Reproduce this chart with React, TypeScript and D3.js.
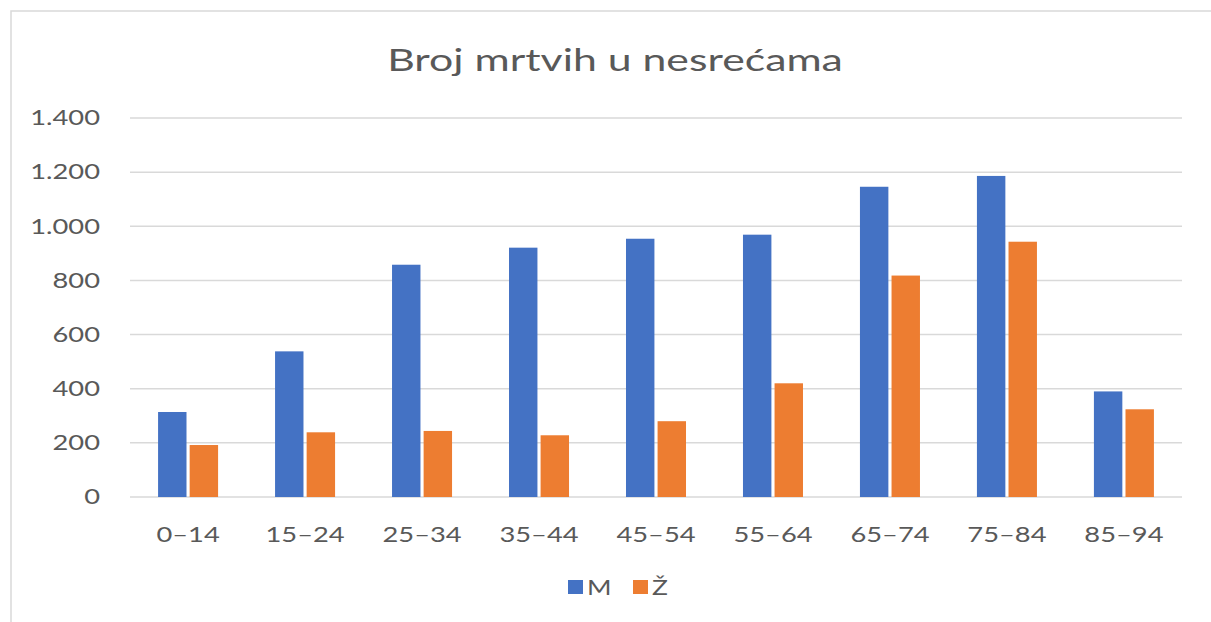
import React from "react";
import * as d3 from "d3";

const categories = ["0–14", "15–24", "25–34", "35–44", "45–54", "55–64", "65–74", "75–84", "85–94"];
const seriesNames = ["M", "Ž"];
const maleValues = [314, 538, 858, 921, 954, 969, 1146, 1186, 390];
const femaleValues = [192, 239, 244, 228, 280, 420, 818, 943, 324];
const yTicks = [0, 200, 400, 600, 800, 1000, 1200, 1400];
const colors = ["#4472C4", "#ED7D31"];

const width = 1211;
const height = 622;
const margin = { top: 118, right: 29, bottom: 125, left: 130 };
const font = "Lato, 'Open Sans', sans-serif";
const textColor = "#595959";

const fmt = (v: number) => d3.format(",")(v).replace(/,/g, ".");

// the source image is stretched sideways, so text gets a horizontal scale
const Label = ({ x, y, anchor = "start", size = 21, sx = 1.3, children }: any) => (
  <text
    transform={`translate(${x},${y}) scale(${sx},1)`}
    textAnchor={anchor}
    dy="0.35em"
    fontFamily={font}
    fontSize={size}
    fill={textColor}
  >
    {children}
  </text>
);

export default function App() {
  const innerW = width - margin.left - margin.right;
  const innerH = height - margin.top - margin.bottom;

  const x = d3.scaleBand().domain(categories).range([0, innerW]).paddingInner(0.487).paddingOuter(0.24);
  const sub = d3.scaleBand().domain(seriesNames).range([0, x.bandwidth()]).paddingInner(0.1);
  const y = d3.scaleLinear().domain([0, 1400]).range([innerH, 0]);

  const series = [maleValues, femaleValues];

  return (
    <svg width={width} height={height} style={{ position: "absolute", left: 0, top: 0, background: "#fff" }}>
      <rect x={11} y={11} width={width + 10} height={height + 10} fill="#fff" stroke="#d9d9d9" strokeWidth={1.5} />
      <Label x={615} y={60} anchor="middle" size={31} sx={1.38}>
        Broj mrtvih u nesrećama
      </Label>
      <g transform={`translate(${margin.left},${margin.top})`}>
        {yTicks.map((t) => (
          <g key={t}>
            <line x1={0} x2={innerW} y1={y(t)} y2={y(t)} stroke="#d9d9d9" strokeWidth={1.5} />
            <Label x={-30} y={y(t)} anchor="end">
              {fmt(t)}
            </Label>
          </g>
        ))}
        {categories.map((c, i) => (
          <g key={c} transform={`translate(${x(c)},0)`}>
            {series.map((vals, s) => (
              <rect
                key={s}
                x={sub(seriesNames[s])}
                y={y(vals[i])}
                width={sub.bandwidth()}
                height={innerH - y(vals[i])}
                fill={colors[s]}
              />
            ))}
            <Label x={x.bandwidth() / 2} y={innerH + 38} anchor="middle">
              {c}
            </Label>
          </g>
        ))}
      </g>
      <g transform="translate(568,580)">
        {seriesNames.map((n, i) => (
          <g key={n} transform={`translate(${i * 65},0)`}>
            <rect x={0} y={0} width={15} height={14} fill={colors[i]} />
            <Label x={19} y={7} size={22} sx={1.2}>
              {n}
            </Label>
          </g>
        ))}
      </g>
    </svg>
  );
}
